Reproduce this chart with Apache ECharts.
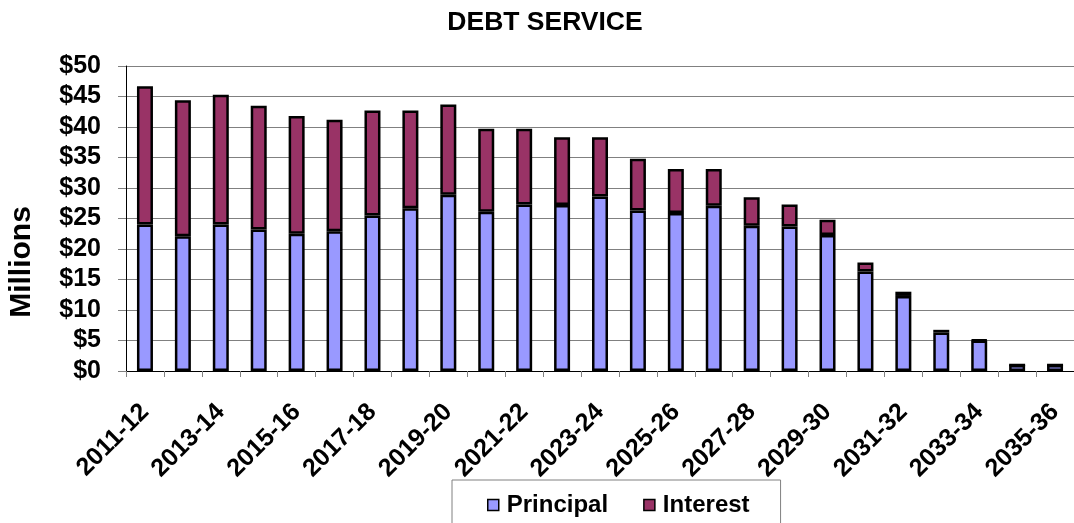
<!DOCTYPE html>
<html>
<head>
<meta charset="utf-8">
<script src="https://cdn.jsdelivr.net/npm/echarts@6/dist/echarts.min.js"></script>
<style>
  html, body { margin: 0; padding: 0; background: #fff; }
  #chart { width: 1074px; height: 523px; }
</style>
</head>
<body>
<div id="chart"></div>
<script>
// Fiscal years of the debt service schedule
const years = [
  '2011-12', '2012-13', '2013-14', '2014-15', '2015-16', '2016-17', '2017-18',
  '2018-19', '2019-20', '2020-21', '2021-22', '2022-23', '2023-24', '2024-25',
  '2025-26', '2026-27', '2027-28', '2028-29', '2029-30', '2030-31', '2031-32',
  '2032-33', '2033-34', '2034-35', '2035-36'
];

// Principal payments, $ millions
const principal = [
  24.0, 22.1, 24.0, 23.2, 22.5, 22.9, 25.5, 26.7, 28.9, 26.1, 27.3, 27.2, 28.6,
  26.3, 25.9, 27.1, 23.8, 23.7, 22.3, 16.3, 12.3, 6.3, 5.0, 1.0, 1.0
];

// Interest payments, $ millions
const interest = [
  22.7, 22.3, 21.3, 20.3, 19.3, 18.3, 17.2, 16.0, 14.8, 13.6, 12.4, 11.1, 9.7,
  8.5, 7.2, 6.0, 4.7, 3.6, 2.5, 1.5, 0.7, 0.45, 0.1, 0, 0
];

// Value-axis ticks ($0 .. $50 every $5)
const yMin = 0, yMax = 50, yStep = 5;

const FONT = '"Liberation Sans", Arial, sans-serif';

const chart = echarts.init(document.getElementById('chart'), null, { renderer: 'canvas' });

const barStyle = (color) => ({
  color: color,
  borderColor: '#000',
  borderWidth: 2.5
});

chart.setOption({
  animation: false,
  backgroundColor: '#fff',
  textStyle: { fontFamily: FONT },
  title: {
    text: 'DEBT SERVICE',
    left: 540,
    textAlign: 'center',
    top: 4,
    textStyle: { fontFamily: FONT, fontWeight: 'bold', fontSize: 26.5, color: '#000' }
  },
  // vertical axis title
  graphic: [{
    type: 'text',
    x: 22,
    y: 262,
    rotation: Math.PI / 2,
    style: {
      text: 'Millions',
      align: 'center',
      verticalAlign: 'middle',
      font: 'bold 30px ' + FONT,
      fill: '#000'
    }
  }],
  legend: {
    data: ['Principal', 'Interest'],
    left: 452,
    top: 480,
    orient: 'horizontal',
    icon: 'rect',
    itemWidth: 11,
    itemHeight: 11,
    itemGap: 35,
    padding: [13, 31, 20, 35],
    borderColor: '#808080',
    borderWidth: 1,
    itemStyle: { borderColor: '#000', borderWidth: 1.5 },
    textStyle: { fontFamily: FONT, fontWeight: 'bold', fontSize: 24, color: '#000', padding: [0, 0, 0, 3] }
  },
  grid: {
    left: 126,
    right: -10,
    top: 66,
    bottom: 152,
    containLabel: false
  },
  xAxis: {
    type: 'category',
    data: years,
    axisLine: { show: true, lineStyle: { color: '#000', width: 1 } },
    axisTick: { show: true, interval: 0, length: 6, lineStyle: { color: '#808080' } },
    axisLabel: {
      interval: 1,
      rotate: 45,
      margin: 37,
      fontFamily: FONT,
      fontWeight: 'bold',
      fontSize: 25,
      color: '#000'
    },
    splitLine: { show: false }
  },
  yAxis: {
    type: 'value',
    min: yMin,
    max: yMax,
    interval: yStep,
    axisLine: { show: true, lineStyle: { color: '#000', width: 1 } },
    axisTick: { show: true, length: 8, lineStyle: { color: '#808080' } },
    axisLabel: {
      formatter: (v) => '$' + v,
      margin: 25,
      fontFamily: FONT,
      fontWeight: 'bold',
      fontSize: 25,
      color: '#000'
    },
    splitLine: { show: true, lineStyle: { color: '#808080', width: 1 } }
  },
  series: [
    {
      name: 'Principal',
      type: 'bar',
      stack: 'debt',
      barWidth: 16,
      data: principal,
      itemStyle: barStyle('#9999FF')
    },
    {
      name: 'Interest',
      type: 'bar',
      stack: 'debt',
      barWidth: 16,
      data: interest,
      itemStyle: barStyle('#993366')
    }
  ]
});
</script>
</body>
</html>
